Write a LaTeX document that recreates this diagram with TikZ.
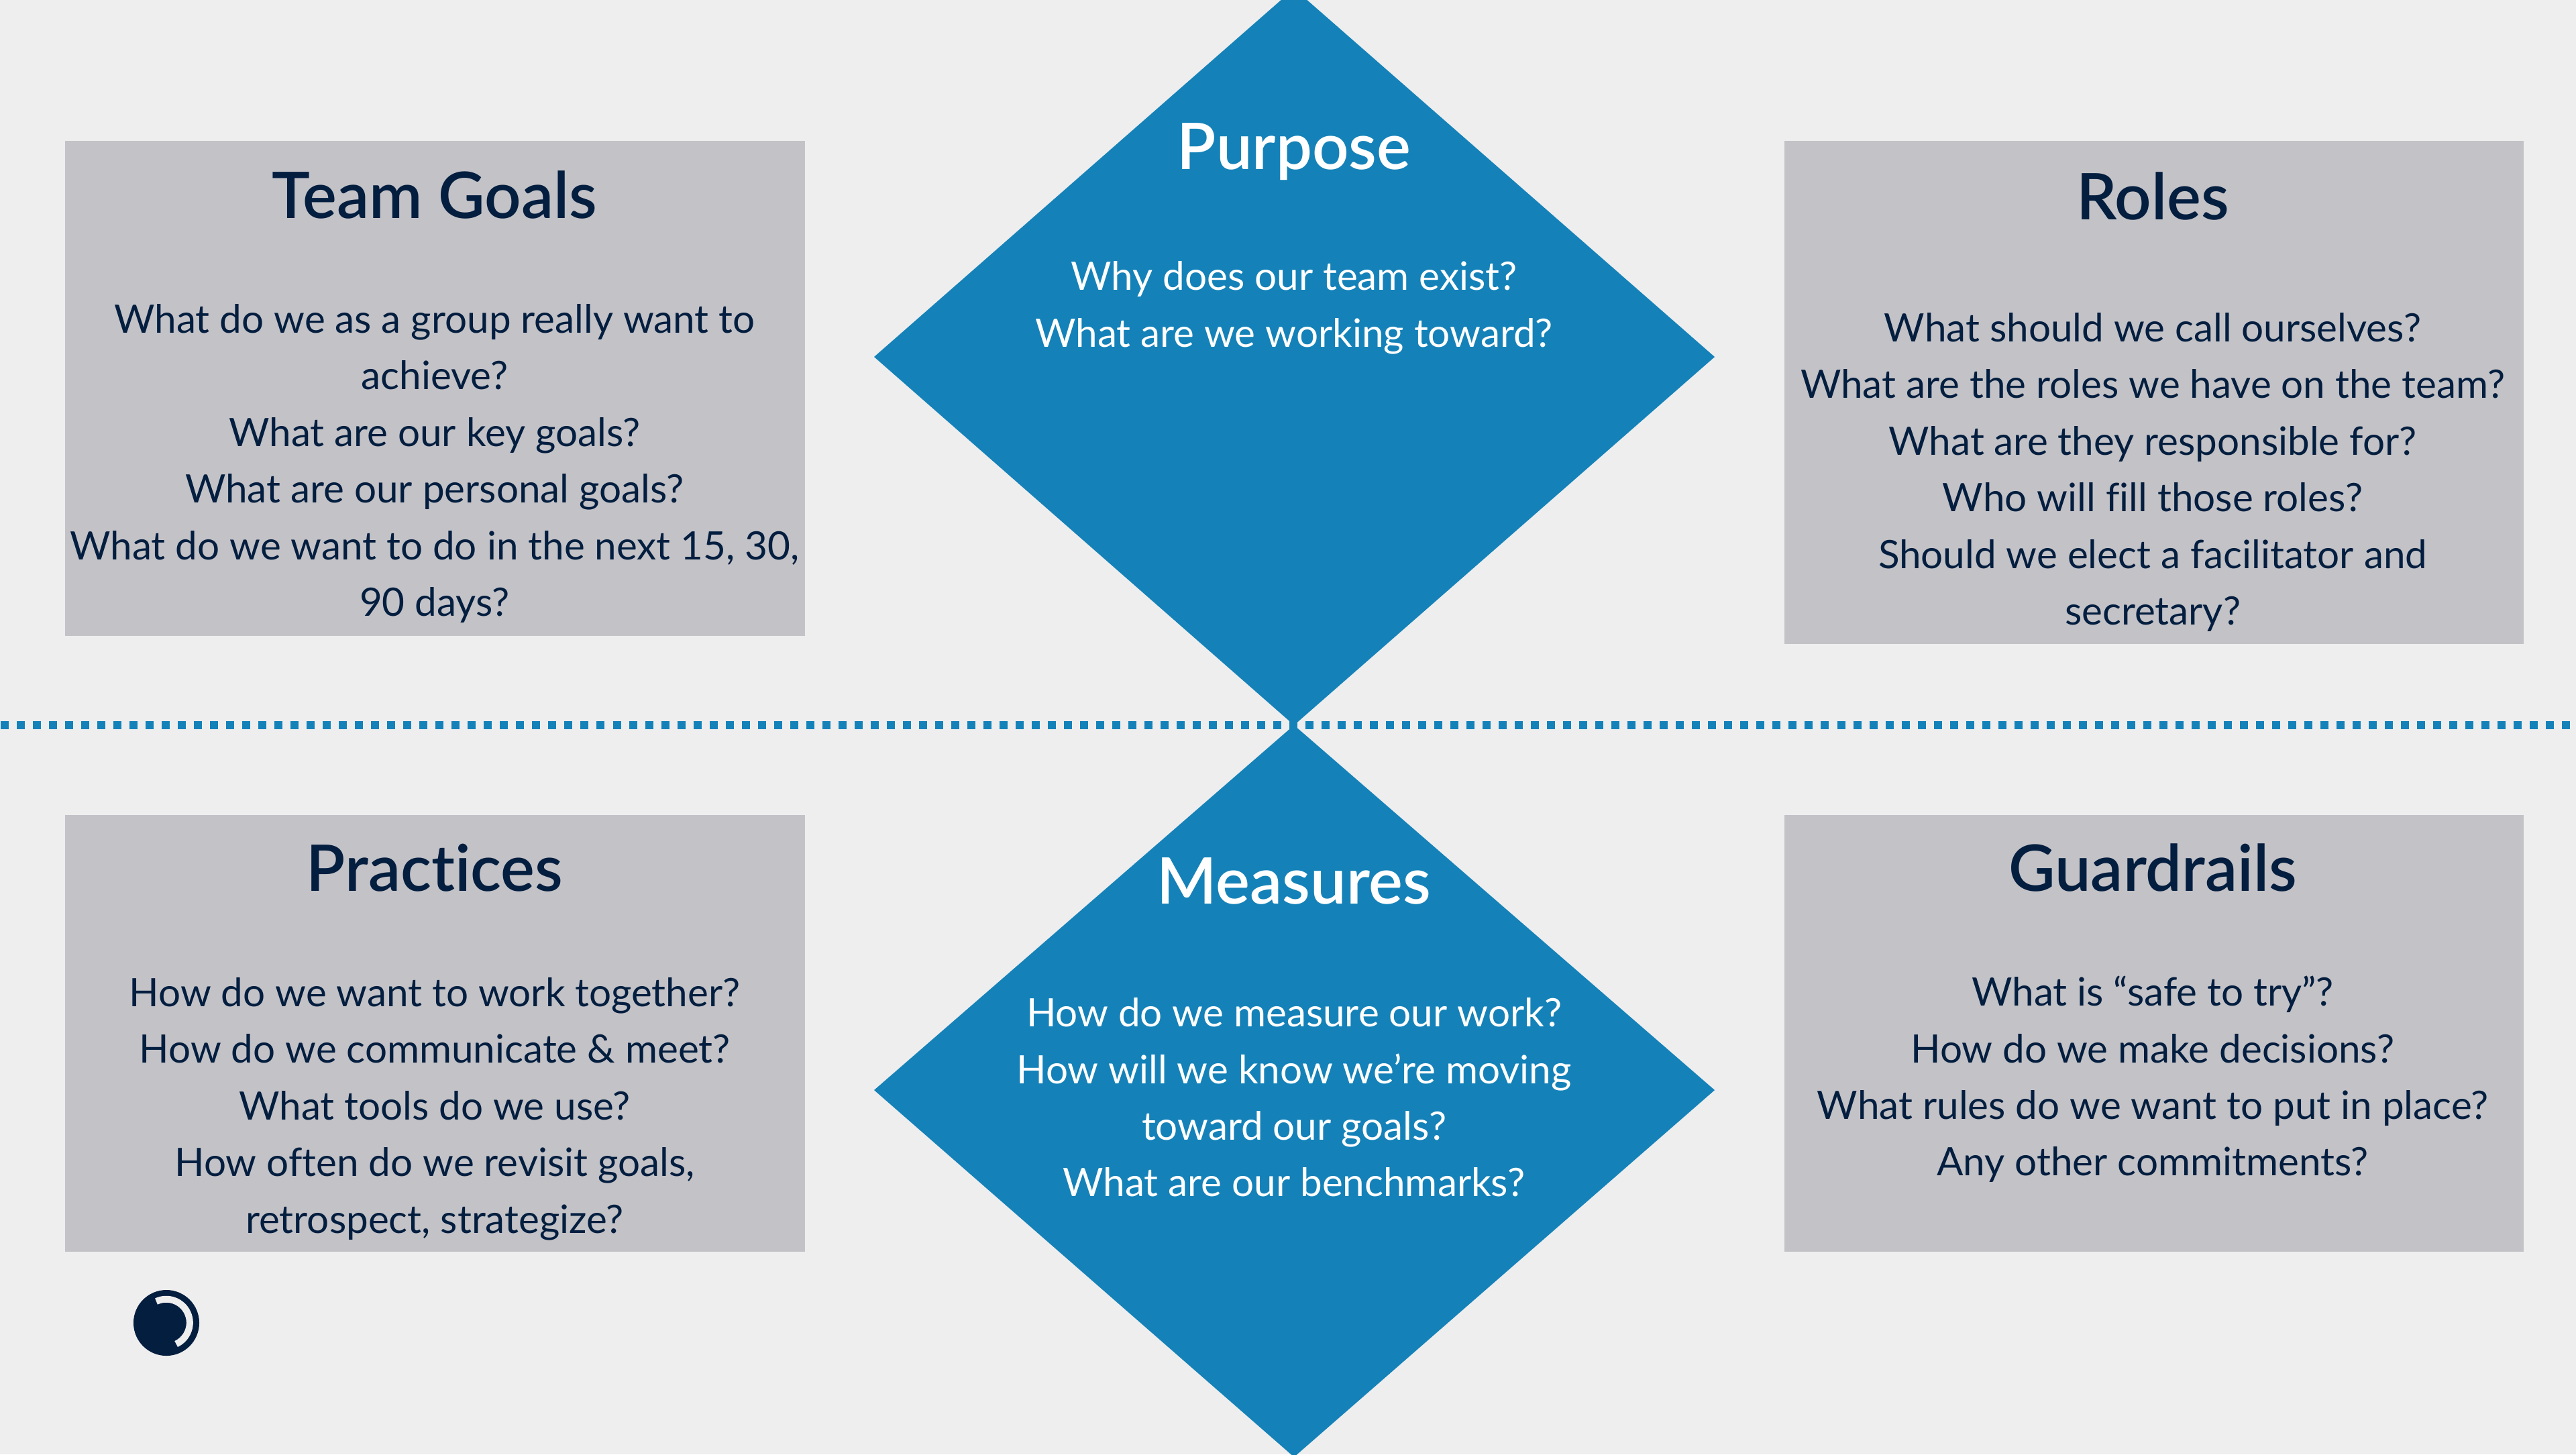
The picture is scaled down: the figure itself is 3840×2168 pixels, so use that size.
\documentclass[tikz,border=0pt]{standalone}
\usepackage{fontspec}
\setmainfont[Ligatures=NoCommon]{Lato}
\newfontfamily\headface[Ligatures=NoCommon]{Lato Semibold}
\definecolor{bg}{HTML}{EEEEEF}
\definecolor{blue}{HTML}{1482B8}
\definecolor{card}{HTML}{C3C2C7}
\definecolor{navy}{HTML}{031E3F}
\newcommand{\bodyfont}{\fontsize{16.6pt}{24pt}\selectfont}
\newcommand{\headfont}{\headface\fontsize{27.2pt}{32pt}\selectfont}
\tikzset{x=0.01cm,y=-0.01cm,
 card/.style={fill=card,draw=none},
 dia/.style={fill=blue,draw=none},
 head/.style={font=\headfont,text=navy,anchor=base,inner sep=0pt},
 headw/.style={font=\headfont,text=white,anchor=base,inner sep=0pt},
 body/.style={font=\bodyfont,text=navy,align=center,anchor=center,inner sep=0pt},
 bodyw/.style={body,text=white},
 divider/.style={draw=blue,line width=0.12cm,dash pattern=on 0.12cm off 0.12cm},
}
\begin{document}
\begin{tikzpicture}
\useasboundingbox (0,0) rectangle (3840,2168);
\fill[bg] (0,0) rectangle (3840,2168);
\clip (0,0) rectangle (3840,2168);
\draw[divider] (1,1081) -- (3840,1081);
\fill[dia] (1929,-17) -- (2556,532) -- (1929,1081) -- (1303,532) -- cycle;
\fill[dia] (1929,1081) -- (2556,1625) -- (1929,2172) -- (1303,1625) -- cycle;
\fill[card] (97,210) rectangle (1200,948);
\fill[card] (2660,210) rectangle (3762,960);
\fill[card] (97,1215) rectangle (1200,1866);
\fill[card] (2660,1215) rectangle (3762,1866);
\node[head] (tg) at (648,325) {Team Goals};
\node[body] (tgb) at (648,691) {What do we as a group really want to\\achieve?\\What are our key goals?\\What are our personal goals?\\What do we want to do in the next 15, 30,\\90 days?};
\node[head] (ro) at (3209,327) {Roles};
\node[body] (rob) at (3209,704) {What should we call ourselves?\\What are the roles we have on the team?\\What are they responsible for?\\Who will fill those roles?\\Should we elect a facilitator and\\secretary?};
\node[head] (pr) at (648,1328) {Practices};
\node[body] (prb) at (648,1653) {How do we want to work together?\\How do we communicate \& meet?\\What tools do we use?\\How often do we revisit goals,\\retrospect, strategize?};
\node[head] (gu) at (3209,1328) {Guardrails};
\node[body] (gub) at (3209,1609) {What is “safe to try”?\\How do we make decisions?\\What rules do we want to put in place?\\Any other commitments?};
\node[headw] (pu) at (1929,252) {Purpose};
\node[bodyw] (pub) at (1929,459) {Why does our team exist?\\What are we working toward?};
\node[headw] (me) at (1929,1347) {Measures};
\node[bodyw] (meb) at (1929,1636) {How do we measure our work?\\How will we know we’re moving\\toward our goals?\\What are our benchmarks?};
\fill[navy] (248,1972) circle[radius=0.49cm];
\draw[bg,line width=0.1cm] (233,1940) arc[start angle=115,end angle=-65,radius=0.35cm];
\end{tikzpicture}
\end{document}
